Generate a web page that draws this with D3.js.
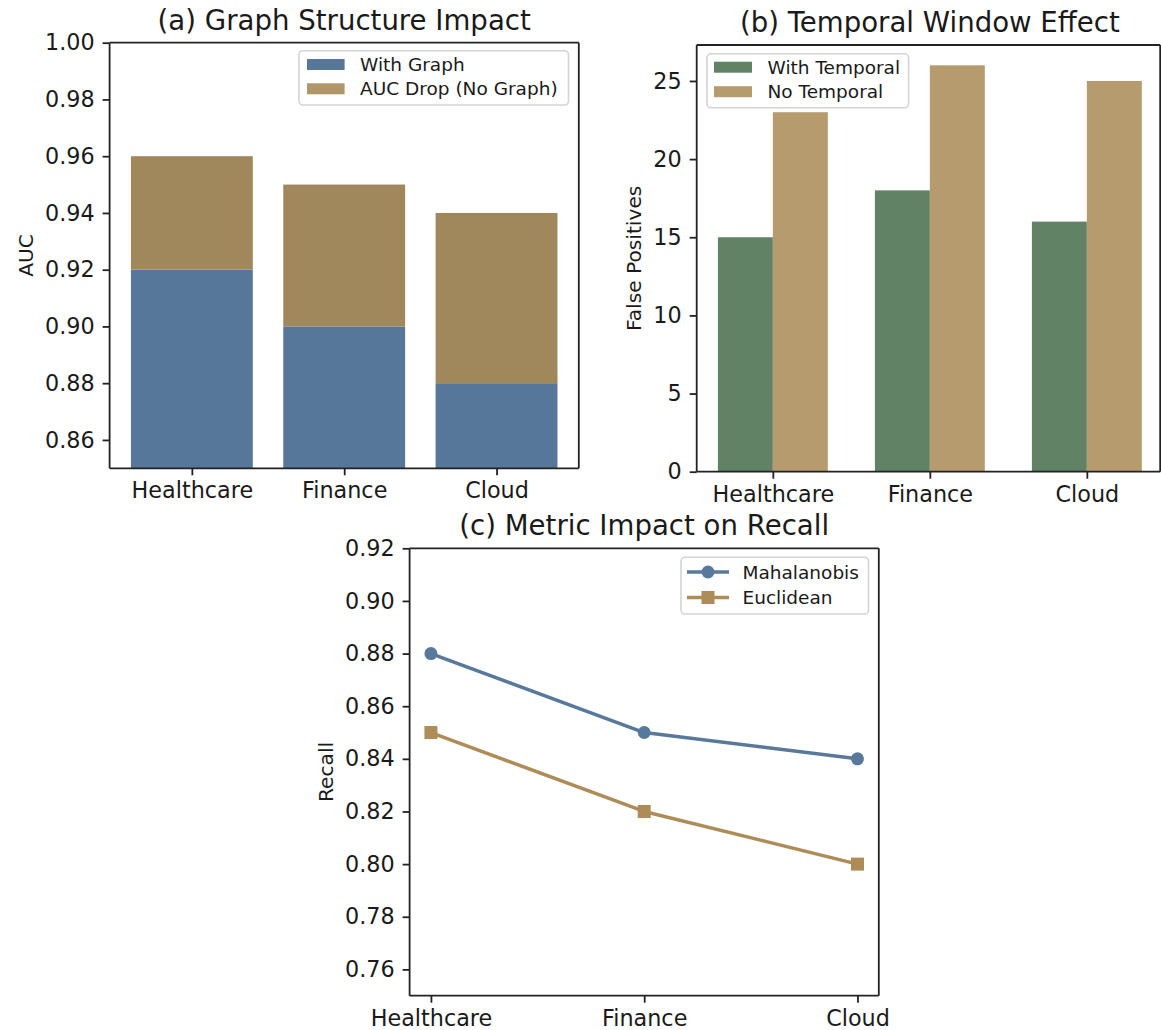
<!DOCTYPE html>
<html>
<head>
<meta charset="utf-8">
<script src="https://cdn.jsdelivr.net/npm/d3@7"></script>
<style>
  html, body { margin: 0; padding: 0; background: #ffffff; }
  svg { display: block; font-family: "DejaVu Sans", sans-serif; }
</style>
</head>
<body>
<svg id="fig" width="1161" height="1030"></svg>
<script>
// ---- data ----
const categories = ["Healthcare", "Finance", "Cloud"];

const aucWithGraph = [0.92, 0.90, 0.88];
const aucDrop = [0.04, 0.05, 0.06];          // stacked on top of aucWithGraph
const aucTicks = [0.86, 0.88, 0.90, 0.92, 0.94, 0.96, 0.98, 1.00];

const fpWithTemporal = [15, 18, 16];
const fpNoTemporal = [23, 26, 25];
const fpTicks = [0, 5, 10, 15, 20, 25];

const recallMahalanobis = [0.88, 0.85, 0.84];
const recallEuclidean = [0.85, 0.82, 0.80];
const recallTicks = [0.76, 0.78, 0.80, 0.82, 0.84, 0.86, 0.88, 0.90, 0.92];

// ---- styling ----
const C = {
  blue: "#57779a",
  brownA: "#a0885c",
  brownASwatch: "#b09669",
  green: "#628265",
  brownB: "#b69b6e",
  lineBlue: "#58799b",
  lineBrown: "#ad8c57",
  ink: "#1a1a1a",
  spine: "#222222"
};
const TICK_FONT = 22.3, TITLE_FONT = 27.6, LABEL_FONT = 20.2, LEGEND_FONT = 18.5;

const svg = d3.select("#fig");
svg.append("rect").attr("width", 1161).attr("height", 1030).attr("fill", "#fff");

function makePanel(box, xDomain, yDomain, id) {
  const g = svg.append("g");
  const x = d3.scaleLinear().domain(xDomain).range([box.left, box.right]);
  const y = d3.scaleLinear().domain(yDomain).range([box.bottom, box.top]);
  svg.append("clipPath").attr("id", id)
    .append("rect")
    .attr("x", box.left).attr("y", box.top)
    .attr("width", box.right - box.left).attr("height", box.bottom - box.top);
  const plot = g.append("g").attr("clip-path", `url(#${id})`);
  return { g, plot, x, y, box };
}

function drawAxes(p, yTicks, yFmt, title, ylabel, ylabelX) {
  const { g, x, y, box } = p;
  // frame (right edge kept inside the drawing area)
  const rx = Math.min(box.right, 1160.2);
  const frame = g.append("g").attr("stroke", C.spine).attr("stroke-width", 1.8).attr("fill", "none");
  frame.append("line").attr("x1", box.left).attr("x2", box.left).attr("y1", box.top).attr("y2", box.bottom);
  frame.append("line").attr("x1", box.left).attr("x2", rx).attr("y1", box.top).attr("y2", box.top);
  frame.append("line").attr("x1", box.left).attr("x2", rx).attr("y1", box.bottom).attr("y2", box.bottom);
  frame.append("line").attr("x1", rx).attr("x2", rx).attr("y1", box.top).attr("y2", box.bottom);

  const xAxis = d3.axisBottom(x)
    .tickValues(d3.range(categories.length))
    .tickFormat(i => categories[i])
    .tickSize(7).tickSizeOuter(0).tickPadding(7);
  const gx = g.append("g").attr("transform", `translate(0,${box.bottom})`).call(xAxis);

  const yAxis = d3.axisLeft(y)
    .tickValues(yTicks)
    .tickFormat(yFmt)
    .tickSize(7).tickSizeOuter(0).tickPadding(8);
  const gy = g.append("g").attr("transform", `translate(${box.left},0)`).call(yAxis);

  [gx, gy].forEach(a => {
    a.select(".domain").remove();
    a.selectAll(".tick line").attr("stroke", C.spine).attr("stroke-width", 1.8);
    a.selectAll(".tick text").attr("fill", C.ink)
      .style("font-size", TICK_FONT + "px")
      .style("font-family", "DejaVu Sans, sans-serif");
  });

  g.append("text")
    .attr("x", (box.left + box.right) / 2).attr("y", box.top - 13)
    .attr("text-anchor", "middle").attr("fill", C.ink)
    .style("font-size", TITLE_FONT + "px")
    .text(title);

  g.append("text")
    .attr("transform", `translate(${ylabelX},${(box.top + box.bottom) / 2}) rotate(-90)`)
    .attr("text-anchor", "middle").attr("fill", C.ink)
    .style("font-size", LABEL_FONT + "px")
    .text(ylabel);
}

function legendFrame(g, x0, y0, w, h) {
  g.append("rect")
    .attr("x", x0).attr("y", y0).attr("width", w).attr("height", h)
    .attr("rx", 4).attr("ry", 4)
    .attr("fill", "rgba(255,255,255,0.85)")
    .attr("stroke", "#d4d4d4").attr("stroke-width", 1.6);
}

function legendText(g, x0, yc, label) {
  g.append("text").attr("x", x0).attr("y", yc + 6.6)
    .attr("fill", C.ink).style("font-size", LEGEND_FONT + "px").text(label);
}

// ---- (a) Graph Structure Impact: stacked bars ----
const pa = makePanel({ left: 109.6, right: 578.8, top: 42.7, bottom: 468.3 }, [-0.54, 2.54], [0.85, 1.00], "clipA");
const barW = 0.8;
pa.plot.selectAll("rect.base").data(aucWithGraph).join("rect")
  .attr("x", (d, i) => pa.x(i - barW / 2))
  .attr("width", pa.x(barW) - pa.x(0))
  .attr("y", d => pa.y(d))
  .attr("height", d => pa.y(0.80) - pa.y(d))
  .attr("fill", C.blue);
pa.plot.selectAll("rect.drop").data(aucDrop).join("rect")
  .attr("x", (d, i) => pa.x(i - barW / 2))
  .attr("width", pa.x(barW) - pa.x(0))
  .attr("y", (d, i) => pa.y(aucWithGraph[i] + d))
  .attr("height", (d, i) => pa.y(aucWithGraph[i]) - pa.y(aucWithGraph[i] + d))
  .attr("fill", C.brownA);
drawAxes(pa, aucTicks, d3.format(".2f"), "(a) Graph Structure Impact", "AUC", 32.7);

{
  const lg = pa.g.append("g");
  legendFrame(lg, 299, 50.7, 269.5, 54.3);
  const rows = [["With Graph", C.blue], ["AUC Drop (No Graph)", C.brownASwatch]];
  rows.forEach(([label, col], i) => {
    const yc = 64.5 + i * 24.3;
    lg.append("rect").attr("x", 307).attr("y", yc - 5.5).attr("width", 37.6).attr("height", 11).attr("fill", col);
    legendText(lg, 360, yc, label);
  });
}

// ---- (b) Temporal Window Effect: grouped bars ----
const pb = makePanel({ left: 696.7, right: 1163, top: 45, bottom: 471.7 }, [-0.485, 2.485], [0, 27.3], "clipB");
const gw = 0.35;
pb.plot.selectAll("rect.wt").data(fpWithTemporal).join("rect")
  .attr("x", (d, i) => pb.x(i - gw))
  .attr("width", pb.x(gw) - pb.x(0))
  .attr("y", d => pb.y(d))
  .attr("height", d => pb.y(0) - pb.y(d))
  .attr("fill", C.green);
pb.plot.selectAll("rect.nt").data(fpNoTemporal).join("rect")
  .attr("x", (d, i) => pb.x(i))
  .attr("width", pb.x(gw) - pb.x(0))
  .attr("y", d => pb.y(d))
  .attr("height", d => pb.y(0) - pb.y(d))
  .attr("fill", C.brownB);
drawAxes(pb, fpTicks, d3.format("d"), "(b) Temporal Window Effect", "False Positives", 641);

{
  const lg = pb.g.append("g");
  legendFrame(lg, 707, 53.8, 201.6, 54);
  const rows = [["With Temporal", C.green], ["No Temporal", C.brownB]];
  rows.forEach(([label, col], i) => {
    const yc = 67.2 + i * 24.5;
    lg.append("rect").attr("x", 714).attr("y", yc - 5.5).attr("width", 38).attr("height", 11).attr("fill", col);
    legendText(lg, 767.5, yc, label);
  });
}

// ---- (c) Metric Impact on Recall: lines with markers ----
const pc = makePanel({ left: 409.6, right: 878.8, top: 548.3, bottom: 995.7 }, [-0.1, 2.1], [0.75, 0.92], "clipC");
const line = d3.line().x((d, i) => pc.x(i)).y(d => pc.y(d));
const series = [
  { name: "Mahalanobis", values: recallMahalanobis, color: C.lineBlue, marker: "circle" },
  { name: "Euclidean", values: recallEuclidean, color: C.lineBrown, marker: "square" }
];
const MS = 13;
function drawMarker(g, type, cx, cy, color) {
  if (type === "circle") {
    g.append("circle").attr("cx", cx).attr("cy", cy).attr("r", MS / 2).attr("fill", color);
  } else {
    g.append("rect").attr("x", cx - MS / 2).attr("y", cy - MS / 2).attr("width", MS).attr("height", MS).attr("fill", color);
  }
}
series.forEach(s => {
  pc.g.append("path").datum(s.values)
    .attr("d", line).attr("fill", "none")
    .attr("stroke", s.color).attr("stroke-width", 3.5)
    .attr("stroke-linejoin", "round").attr("stroke-linecap", "round");
  s.values.forEach((v, i) => drawMarker(pc.g, s.marker, pc.x(i), pc.y(v), s.color));
});
drawAxes(pc, recallTicks, d3.format(".2f"), "(c) Metric Impact on Recall", "Recall", 332.7);

{
  const lg = pc.g.append("g");
  legendFrame(lg, 681, 557.3, 187.5, 56.7);
  series.forEach((s, i) => {
    const yc = 572 + i * 25.5;
    lg.append("line").attr("x1", 687).attr("x2", 729).attr("y1", yc).attr("y2", yc)
      .attr("stroke", s.color).attr("stroke-width", 3.5);
    drawMarker(lg, s.marker, 708, yc, s.color);
    legendText(lg, 742.5, yc, s.name);
  });
}
</script>
</body>
</html>
